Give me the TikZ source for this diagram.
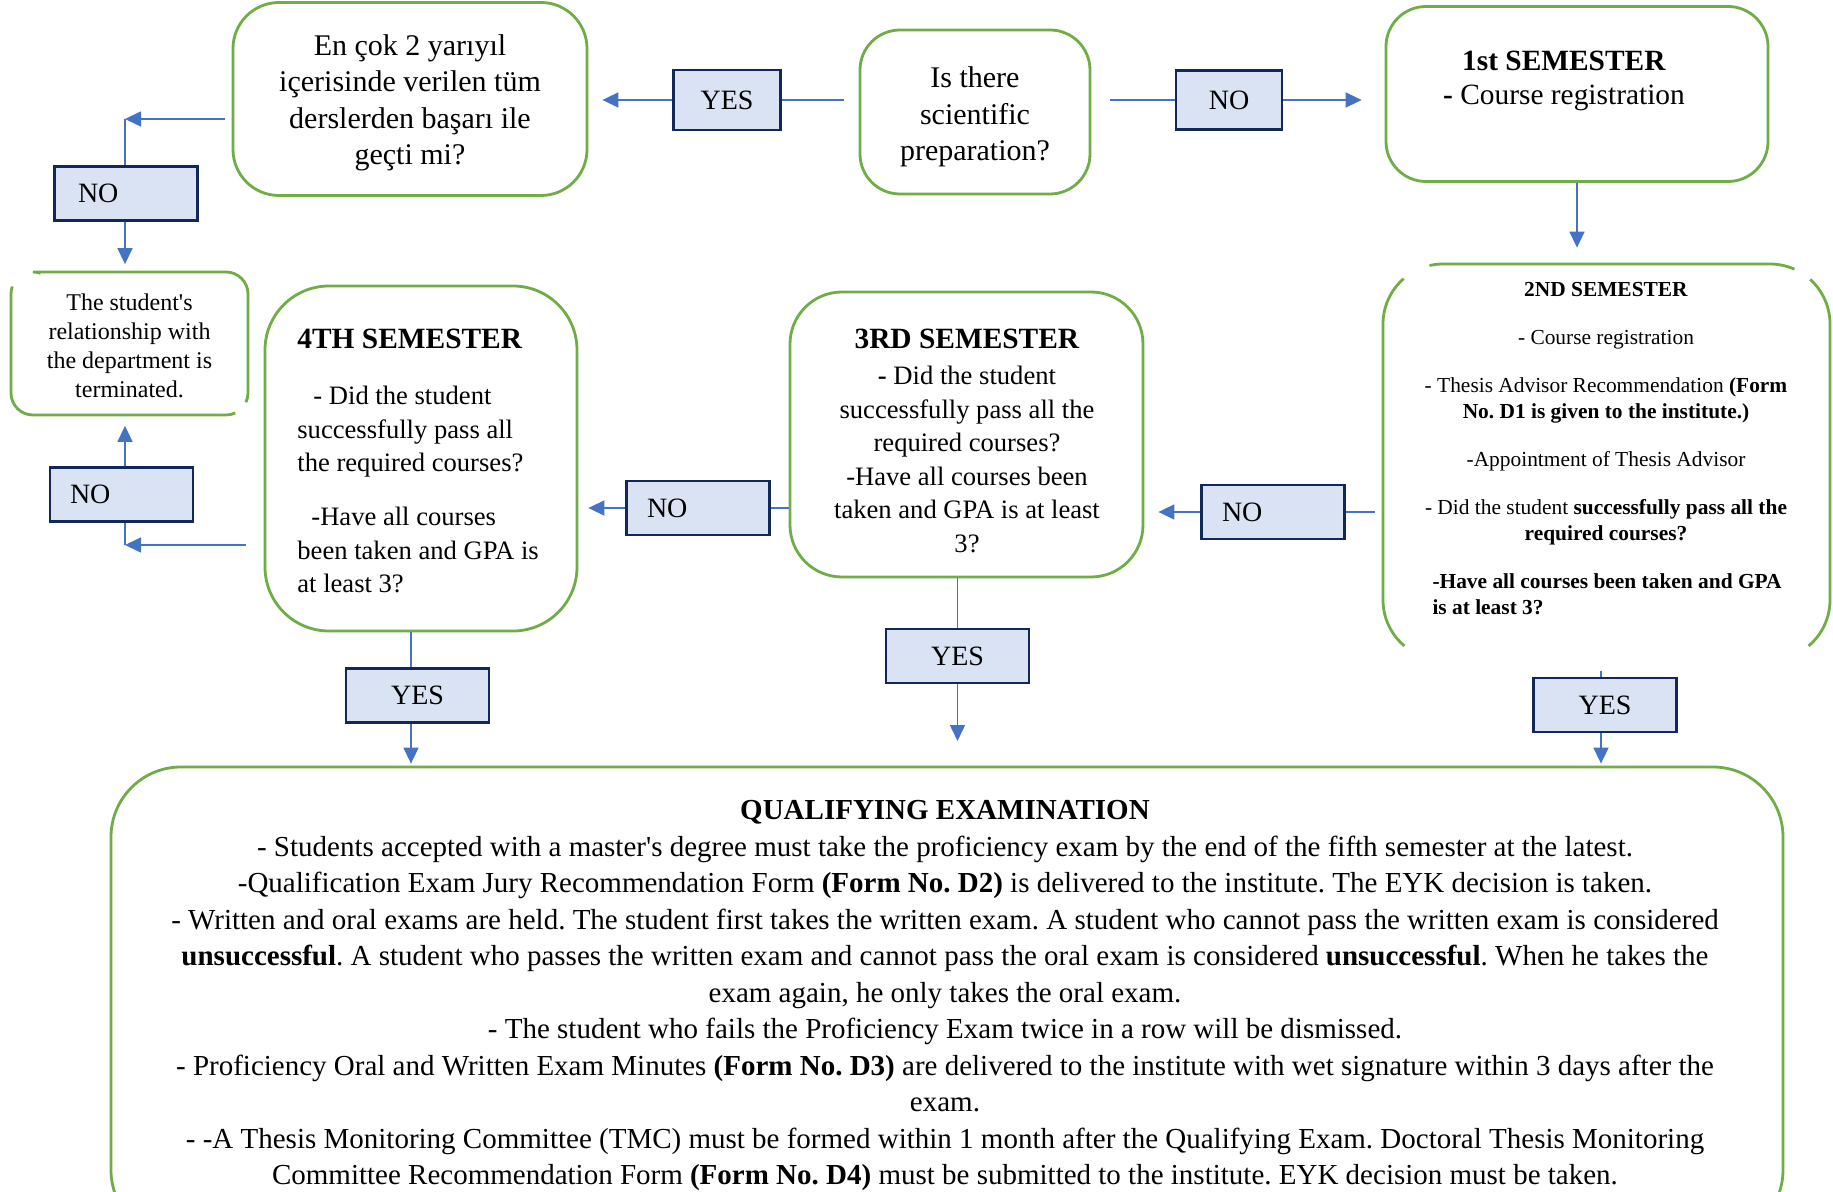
\documentclass[tikz,border=0pt]{standalone}
\usepackage{fontspec}
\setmainfont{Liberation Serif}[Ligatures=TeXOff]
\usetikzlibrary{arrows.meta}
\definecolor{gborder}{HTML}{70AD47}
\definecolor{conncol}{HTML}{4472C4}
\definecolor{lblfill}{HTML}{DAE3F3}
\definecolor{lbldraw}{HTML}{13285A}
\frenchspacing
\begin{document}
\begin{tikzpicture}[x=0.5pt,y=-0.5pt,
  gbox/.style={draw=gborder, line width=1.4pt, rounded corners=#1, inner sep=0pt},
  gline/.style={draw=gborder, line width=1.4pt},
  ghost/.style={draw=none, inner sep=0pt},
  lbl/.style={draw=lbldraw, fill=lblfill, line width=1.2pt, font=\fontsize{14}{16}\selectfont, inner sep=0pt, minimum width=71.5pt, minimum height=27pt},
  lblL/.style={lbl, inner xsep=10pt, text width=51pt, align=left},
  conn/.style={draw=conncol, line width=0.8pt},
  arr/.style={conn, -{Triangle[length=8pt,width=7.5pt]}},
  txt/.style={inner sep=0pt, text=black}
]
\frenchspacing
\useasboundingbox (0,0) rectangle (1833,1192);
\fill[white] (0,0) rectangle (1833,1192);

% ---- top row ----
\node[gbox=23pt, minimum width=177pt, minimum height=96.5pt] (tr) at (410,99) {};
\node[txt, align=center, font=\fontsize{15}{18.2}\selectfont] (trt) at (410,103) {En çok 2 yarıyıl\\içerisinde verilen tüm\\derslerden başarı ile\\geçti mi?};
\node[gbox=20pt, minimum width=115pt, minimum height=82pt] (sp) at (975,112) {};
\node[txt, align=center, font=\fontsize{15}{18.2}\selectfont] (spt) at (975,117) {Is there\\scientific\\preparation?};
\node[gbox=20pt, minimum width=191pt, minimum height=87.5pt] (s1) at (1577,94) {};
\node[txt, anchor=north, align=center, font=\fontsize{14.7}{17}\selectfont] (t1) at (1564,51) {\textbf{1st SEMESTER}\\\textbf{-} Course registration};

\node[lbl, minimum width=53.5pt, minimum height=30pt] (yest) at (727,100) {YES};
\node[lbl, minimum width=53pt, minimum height=29.5pt] (not) at (1229,100) {NO};

% ---- left column ----
\node[lblL, text width=48pt] (noul) at (126,193.5) {NO};
\node[ghost, minimum width=118.5pt, minimum height=71.5pt, align=center, font=\fontsize{12}{14.5}\selectfont] (term) at (129.5,346) {The student's\\relationship with\\the department is\\terminated.};
\draw[gline] ([shift={(70:11pt)}]33,294) arc[start angle=70,end angle=90,radius=11pt] -- ([shift={(90:11pt)}]226,294) arc[start angle=90,end angle=0,radius=11pt] -- ([shift={(0:11pt)}]226,393) arc[start angle=0,end angle=-25,radius=11pt];
\draw[gline] ([shift={(-65:11pt)}]226,393) arc[start angle=-65,end angle=-90,radius=11pt] -- ([shift={(-90:11pt)}]33,393) arc[start angle=270,end angle=180,radius=11pt] -- ([shift={(180:11pt)}]33,294) arc[start angle=180,end angle=160,radius=11pt];
\node[lblL, text width=51.5pt] (noll) at (121.5,494.5) {NO};

% ---- middle row ----
\node[gbox=32pt, minimum width=156pt, minimum height=172.5pt] (b4) at (421,458.5) {};
\node[txt, anchor=north west, align=left, font=\fontsize{13.3}{16.75}\selectfont] (t4) at (297,329) {{\fontsize{14.7}{16.75}\selectfont\textbf{4TH SEMESTER}}\\[11.25pt]\hspace*{8pt}- Did the student\\successfully pass all\\the required courses?\\[10.25pt]\hspace*{7pt}-Have all courses\\been taken and GPA is\\at least 3?};

\node[gbox=26pt, minimum width=176.5pt, minimum height=142.5pt] (b3) at (966.5,434.5) {};
\node[txt, anchor=north, align=center, font=\fontsize{13.3}{16.75}\selectfont] (t3) at (967,329) {{\fontsize{14.7}{16.75}\selectfont\textbf{3RD SEMESTER}}\\[1.25pt]\textbf{-} Did the student\\successfully pass all the\\required courses?\\-Have all courses been\\taken and GPA is at least\\3?};

\node[ghost, minimum width=223.5pt, minimum height=198pt] (b2) at (1606.5,462) {};
\draw[gline] ([shift={(103:30pt)}]1443,324) arc[start angle=103,end angle=90,radius=30pt] -- ([shift={(90:30pt)}]1770,324) arc[start angle=90,end angle=66,radius=30pt];
\draw[gline] ([shift={(131:30pt)}]1443,324) arc[start angle=131,end angle=180,radius=30pt] -- ([shift={(180:30pt)}]1443,600) arc[start angle=180,end angle=230,radius=30pt];
\draw[gline] ([shift={(48:30pt)}]1770,324) arc[start angle=48,end angle=0,radius=30pt] -- ([shift={(0:30pt)}]1770,600) arc[start angle=0,end angle=-50,radius=30pt];
\node[txt, anchor=north, align=center, font=\fontsize{10.7}{13}\selectfont] (t2) at (1606,282) {\textbf{2ND SEMESTER}\\[11pt]- Course registration\\[11pt]- Thesis Advisor Recommendation \textbf{(Form}\\\textbf{No. D1 is given to the institute.)}\\[11pt]-Appointment of Thesis Advisor\\[11pt]- Did the student \textbf{successfully pass all the}\\\textbf{required courses?}\\[11pt]\makebox[173.5pt][l]{\textbf{-Have all courses been taken and GPA}}\\\makebox[173.5pt][l]{\textbf{is at least 3?}}};

\node[lblL] (nom1) at (698,508) {NO};
\node[lblL] (nom2) at (1273,512) {NO};

\node[lbl] (yes4) at (417.5,695.5) {YES};
\node[lbl] (yes3) at (957.5,656) {YES};
\node[lbl] (yes2) at (1605,705) {YES};

% ---- qualifying examination ----
\node[gbox=35pt, minimum width=836pt, minimum height=236.5pt] (qe) at (947,1003.5) {};
\node[txt, anchor=north, align=center, font=\fontsize{14.5}{18.25}\selectfont] (tq) at (945,800) {\textbf{QUALIFYING EXAMINATION}\\
- Students accepted with a master's degree must take the proficiency exam by the end of the fifth semester at the latest.\\
-Qualification Exam Jury Recommendation Form \textbf{(Form No. D2)} is delivered to the institute. The EYK decision is taken.\\
- Written and oral exams are held. The student first takes the written exam. A student who cannot pass the written exam is considered\\
\textbf{unsuccessful}. A student who passes the written exam and cannot pass the oral exam is considered \textbf{unsuccessful}. When he takes the\\
exam again, he only takes the oral exam.\\
- The student who fails the Proficiency Exam twice in a row will be dismissed.\\
- Proficiency Oral and Written Exam Minutes \textbf{(Form No. D3)} are delivered to the institute with wet signature within 3 days after the\\
exam.\\
- -A Thesis Monitoring Committee (TMC) must be formed within 1 month after the Qualifying Exam. Doctoral Thesis Monitoring\\
Committee Recommendation Form \textbf{(Form No. D4)} must be submitted to the institute. EYK decision must be taken.};

% ---- connectors ----
\draw[conn, shorten <=7.5pt] (sp.west |- yest.east) -- (yest.east);
\draw[arr, shorten >=7pt] (yest.west) -- (yest.west -| tr.east);
\draw[conn, shorten <=9.5pt] (sp.east |- not.west) -- (not.west);
\draw[arr, shorten >=11.5pt] (not.east) -- (not.east -| s1.west);
\draw[arr, shorten >=8pt] (s1.south) -- (s1.south |- b2.north);

\coordinate (c1) at (125,119);
\draw[arr, shorten <=3.5pt] (c1 -| tr.west) -- (c1);
\draw[conn] (c1) -- (c1 |- noul.north);
\draw[arr, shorten >=5pt] (c1 |- noul.south) -- (c1 |- term.north);

\coordinate (c2) at (125,545);
\draw[arr, shorten <=9pt] (c2 -| b4.west) -- (c2);
\draw[conn] (c2) -- (c2 |- noll.south);
\draw[arr, shorten >=4pt] (c2 |- noll.north) -- (c2 |- term.south);

\coordinate (x4) at (411,0);
\draw[conn] (b4.south -| x4) -- (yes4.north -| x4);
\draw[arr, shorten >=1pt] (yes4.south -| x4) -- (qe.north -| x4);

\draw[conn] (b3.west |- nom1.east) -- (nom1.east);
\draw[arr, shorten >=5pt] (nom1.west) -- (nom1.west -| b4.east);
\draw[conn] (b3.south -| yes3) -- (yes3.north);
\coordinate (e3) at (957.5,741);
\draw[arr] (yes3.south) -- (e3);

\draw[conn, shorten <=4pt] (b2.west |- nom2.east) -- (nom2.east);
\draw[arr, shorten >=7pt] (nom2.west) -- (nom2.west -| b3.east);
\coordinate (x2) at (1601,671);
\draw[conn] (x2) -- (yes2.north -| x2);
\draw[arr, shorten >=1pt] (yes2.south -| x2) -- (qe.north -| x2);
\end{tikzpicture}
\end{document}
